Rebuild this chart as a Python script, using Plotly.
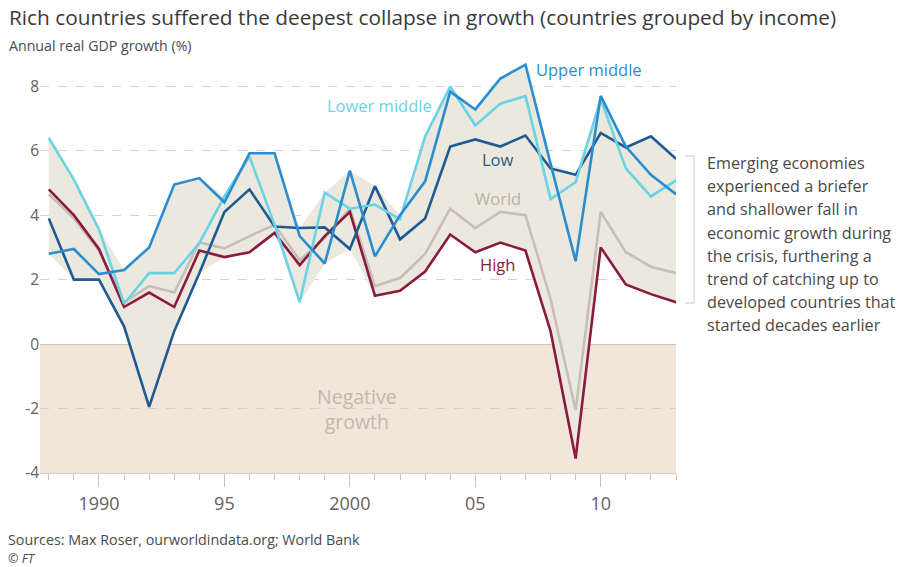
import numpy as np
import plotly.graph_objects as go

years = list(range(1988, 2014))
high = [4.8, 4.0, 2.95, 1.15, 1.6, 1.15, 2.9, 2.7, 2.85, 3.45, 2.45, 3.35, 4.1, 1.5, 1.65, 2.25,
        3.4, 2.85, 3.15, 2.9, 0.4, -3.55, 3.0, 1.85, 1.55, 1.3]
world = [4.65, 3.9, 2.9, 1.3, 1.8, 1.6, 3.15, 2.97, 3.35, 3.7, 2.6, 3.3, 4.2, 1.8, 2.05, 2.8,
         4.2, 3.6, 4.1, 4.0, 1.4, -2.05, 4.1, 2.85, 2.4, 2.2]
low = [3.9, 2.0, 2.0, 0.55, -1.95, 0.4, 2.2, 4.1, 4.8, 3.65, 3.6, 3.62, 2.95, 4.9, 3.25, 3.9,
       6.13, 6.35, 6.13, 6.47, 5.45, 5.25, 6.55, 6.1, 6.45, 5.75]
upper_middle = [2.8, 2.95, 2.17, 2.3, 3.0, 4.95, 5.15, 4.4, 5.92, 5.92, 3.35, 2.5, 5.38, 2.72, 4.0, 5.05,
                7.83, 7.28, 8.24, 8.67, 5.6, 2.57, 7.7, 6.13, 5.25, 4.65]
lower_middle = [6.4, 5.1, 3.56, 1.25, 2.2, 2.2, 3.13, 4.58, 5.82, 3.7, 1.3, 4.7, 4.2, 4.33, 3.87, 6.44,
                7.99, 6.78, 7.46, 7.7, 4.5, 5.02, 7.6, 5.45, 4.58, 5.08]

tick_vals = [1990, 1995, 2000, 2005, 2010]
tick_text = ["1990", "95", "2000", "05", "10"]
y_ticks = [-4, -2, 0, 2, 4, 6, 8]
y_tick_text = ["-4", "-2", "0", "2", "4", "6", "8"]

note_lines = ["Emerging economies", "experienced a briefer", "and shallower fall in",
              "economic growth during", "the crisis, furthering a", "trend of catching up to",
              "developed countries that", "started decades earlier"]

FONT = "Open Sans"
C_HIGH = "#8b1a40"
C_WORLD = "#c9beb5"
C_LOW = "#1f5a94"
C_UPPER = "#2a8dd0"
C_LOWER = "#6bd3e6"

allv = np.array([high, world, low, upper_middle, lower_middle])
band_min = allv.min(axis=0)
band_max = allv.max(axis=0)

fig = go.Figure()
fig.add_trace(go.Scatter(x=years, y=band_min, mode="lines", line=dict(width=0), showlegend=False, hoverinfo="skip"))
fig.add_trace(go.Scatter(x=years, y=band_max, mode="lines", line=dict(width=0), fill="tonexty",
                         fillcolor="rgba(235,232,221,1)", showlegend=False, hoverinfo="skip"))

for name, vals, col in [("World", world, C_WORLD), ("High", high, C_HIGH), ("Low", low, C_LOW),
                        ("Lower middle", lower_middle, C_LOWER), ("Upper middle", upper_middle, C_UPPER)]:
    fig.add_trace(go.Scatter(x=years, y=vals, mode="lines", name=name,
                             line=dict(color=col, width=2.6), showlegend=False))

W, H = 902, 567
L, R, T, B = 40, 226, 54, 94
pw, ph = W - L - R, H - T - B


def px(x):
    return (x - L) / pw


def py(y):
    return (H - B - y) / ph


fig.add_shape(type="rect", xref="paper", yref="y", x0=0, x1=1, y0=-4, y1=0,
              fillcolor="#f2e5da", line=dict(width=0), layer="below")

ann = []
ann.append(dict(text="Rich countries suffered the deepest collapse in growth (countries grouped by income)",
                xref="paper", yref="paper", x=px(7), y=py(17), xanchor="left", yanchor="middle",
                showarrow=False, font=dict(family=FONT, size=20.8, color="#3a3a3a")))
ann.append(dict(text="Annual real GDP growth (%)", xref="paper", yref="paper", x=px(7), y=py(45),
                xanchor="left", yanchor="middle", showarrow=False,
                font=dict(family=FONT, size=14.2, color="#4a4a4a")))
ann.append(dict(text="Sources: Max Roser, ourworldindata.org; World Bank", xref="paper", yref="paper",
                x=px(7), y=py(539), xanchor="left", yanchor="middle", showarrow=False, borderpad=0,
                font=dict(family=FONT, size=14.3, color="#4a4a4a")))
ann.append(dict(text="© <i>FT</i>", xref="paper", yref="paper", x=px(7), y=py(558.5),
                xanchor="left", yanchor="middle", showarrow=False, borderpad=0,
                font=dict(family=FONT, size=12.5, color="#4a4a4a")))

for txt, x, y, col, anc in [("Upper middle", 2007.35, 8.53, C_UPPER, "left"),
                            ("Lower middle", 1999.0, 7.41, C_LOWER, "left"),
                            ("Low", 2005.9, 5.74, C_LOW, "center"),
                            ("World", 2005.9, 4.53, "#bbb1a8", "center"),
                            ("High", 2005.9, 2.48, C_HIGH, "center")]:
    ann.append(dict(text=txt, x=x, y=y, xref="x", yref="y", xanchor=anc, yanchor="middle",
                    showarrow=False, font=dict(family=FONT, size=16.5, color=col)))

ann.append(dict(text="Negative<br>growth", x=2000.3, y=-2.0, xref="x", yref="y", xanchor="center",
                yanchor="middle", showarrow=False, align="center",
                font=dict(family=FONT, size=19.5, color="#c4b7ad")))

for i, line in enumerate(note_lines):
    ann.append(dict(text=line, xref="paper", yref="paper", x=px(705), y=py(163 + i * 23.2),
                    xanchor="left", yanchor="middle", showarrow=False,
                    font=dict(family=FONT, size=16.2, color="#4d4845")))

fig.add_shape(type="path", xref="paper", yref="paper",
              path=f"M {px(685)} {py(156)} L {px(694)} {py(156)} L {px(694)} {py(303)} L {px(685)} {py(303)}",
              line=dict(color="#c8c8c8", width=1))

fig.update_layout(
    width=W, height=H, margin=dict(l=L, r=R, t=T, b=B),
    paper_bgcolor="white", plot_bgcolor="white",
    annotations=ann, showlegend=False,
    xaxis=dict(range=[1987.65, 2013.0], tickvals=tick_vals, ticktext=tick_text,
               showgrid=False, zeroline=False, showline=True, linecolor="#d8ccc2", linewidth=1,
               ticks="outside", ticklen=13, tickcolor="#cfc4bb", tickwidth=1,
               minor=dict(dtick=1, tick0=1988, ticks="outside", ticklen=6, tickcolor="#cfc4bb", showgrid=False),
               tickfont=dict(family=FONT, size=18, color="#66605c"), ticklabelstandoff=1,
               fixedrange=True),
    yaxis=dict(range=[-4, 9.0], tickvals=y_ticks, ticktext=y_tick_text, showgrid=True,
               gridcolor="#d9d0c8", griddash="dash",
               gridwidth=1, zeroline=True, zerolinecolor="#d5c4b6", zerolinewidth=1,
               showline=False, ticks="", tickfont=dict(family=FONT, size=15.5, color="#66605c"),
               fixedrange=True),
)

fig.write_html("out.html", config={"displayModeBar": False},
               post_script="document.body.style.margin='0';")
